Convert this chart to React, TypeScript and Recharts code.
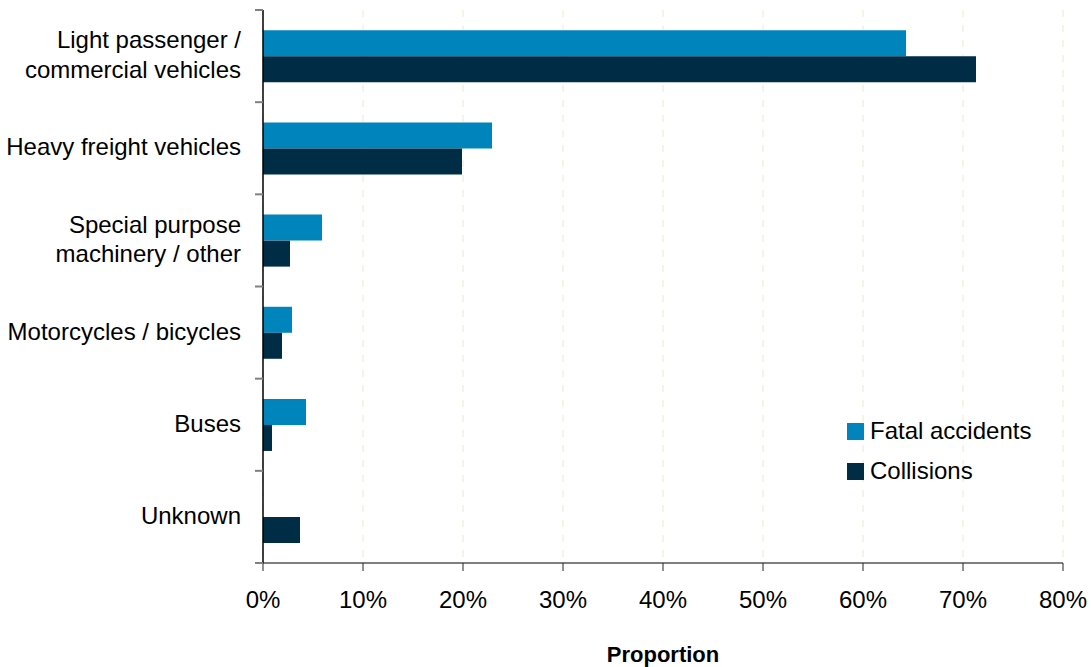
import React from 'react';
import {
  BarChart,
  Bar,
  XAxis,
  YAxis,
  CartesianGrid,
} from 'recharts';

// Share of vehicles involved, by vehicle type (%)
const categories = [
  'Light passenger / commercial vehicles',
  'Heavy freight vehicles',
  'Special purpose machinery / other',
  'Motorcycles / bicycles',
  'Buses',
  'Unknown',
];
const categoryLines = [
  ['Light passenger /', 'commercial vehicles'],
  ['Heavy freight vehicles'],
  ['Special purpose', 'machinery / other'],
  ['Motorcycles / bicycles'],
  ['Buses'],
  ['Unknown'],
];
const fatalAccidents = [64.3, 22.9, 5.9, 2.9, 4.3, 0];
const collisions = [71.3, 19.9, 2.7, 1.9, 0.9, 3.7];
const xTicks = [0, 10, 20, 30, 40, 50, 60, 70, 80];

const FATAL_COLOR = '#0084bc';
const COLLISION_COLOR = '#002c45';
const FONT = '"Liberation Sans", Arial, sans-serif';

const WIDTH = 1091;
const HEIGHT = 667;
const MARGIN = { top: 10, right: 28, bottom: 0, left: 0 };
const Y_AXIS_W = 263;
const X_AXIS_H = 104;
const PLOT_H = HEIGHT - MARGIN.top - MARGIN.bottom - X_AXIS_H;
const STEP = PLOT_H / categories.length;

const data = categories.map((name, i) => ({
  name,
  fatal: fatalAccidents[i],
  collisions: collisions[i],
}));

function CategoryTick(props: any) {
  const { x, y, index } = props;
  const lines = categoryLines[index] || [props.payload.value];
  const lineH = 29.5;
  const first = y - ((lines.length - 1) * lineH) / 2;
  return (
    <g>
      {/* boundary ticks between categories */}
      <line x1={x - 8} x2={x} y1={y - STEP / 2} y2={y - STEP / 2} stroke="#808080" strokeWidth={2} />
      {index === categories.length - 1 && (
        <line x1={x - 8} x2={x} y1={y + STEP / 2} y2={y + STEP / 2} stroke="#808080" strokeWidth={2} />
      )}
      {lines.map((t: string, i: number) => (
        <text
          key={i}
          x={x - 22}
          y={first + i * lineH}
          dy={7}
          textAnchor="end"
          fontSize={24}
          fontFamily={FONT}
          fill="#000"
        >
          {t}
        </text>
      ))}
    </g>
  );
}

function LegendBox() {
  const items = [
    { label: 'Fatal accidents', color: FATAL_COLOR },
    { label: 'Collisions', color: COLLISION_COLOR },
  ];
  return (
    <div
      style={{
        position: 'absolute',
        left: 847,
        top: 411,
        fontFamily: FONT,
        fontSize: 24,
        color: '#000',
        whiteSpace: 'nowrap',
      }}
    >
      {items.map((it) => (
        <div key={it.label} style={{ display: 'flex', alignItems: 'center', height: 40 }}>
          <span style={{ width: 17, height: 17, background: it.color, marginRight: 6 }} />
          <span>{it.label}</span>
        </div>
      ))}
    </div>
  );
}

export default function App() {
  return (
    <div style={{ position: 'absolute', left: 0, top: 0, width: WIDTH, height: HEIGHT, background: '#fff' }}>
      <BarChart
        width={WIDTH}
        height={HEIGHT}
        data={data}
        layout="vertical"
        margin={MARGIN}
        barCategoryGap="22%"
        barGap={0}
      >
        <CartesianGrid
          horizontal={false}
          stroke="#efe7cc"
          strokeDasharray="7 8"
        />
        <XAxis
          type="number"
          domain={[0, 80]}
          ticks={xTicks}
          interval={0}
          height={X_AXIS_H}
          tickFormatter={(v: number) => `${v}%`}
          tick={{ fontSize: 24, fontFamily: FONT, fill: '#000' }}
          tickSize={8}
          tickMargin={20}
          tickLine={{ stroke: '#222', strokeWidth: 1 }}
          axisLine={{ stroke: '#808080', strokeWidth: 2 }}
          label={{
            value: 'Proportion',
            position: 'insideBottom',
            offset: 5,
            fontSize: 22,
            fontWeight: 'bold',
            fontFamily: FONT,
            fill: '#000',
          }}
        />
        <YAxis
          type="category"
          dataKey="name"
          width={Y_AXIS_W}
          interval={0}
          tickSize={0}
          tickMargin={0}
          tickLine={false}
          axisLine={{ stroke: '#000', strokeWidth: 1.5 }}
          tick={<CategoryTick />}
        />
        <Bar dataKey="fatal" name="Fatal accidents" fill={FATAL_COLOR} isAnimationActive={false} />
        <Bar dataKey="collisions" name="Collisions" fill={COLLISION_COLOR} isAnimationActive={false} />
      </BarChart>
      <LegendBox />
    </div>
  );
}
